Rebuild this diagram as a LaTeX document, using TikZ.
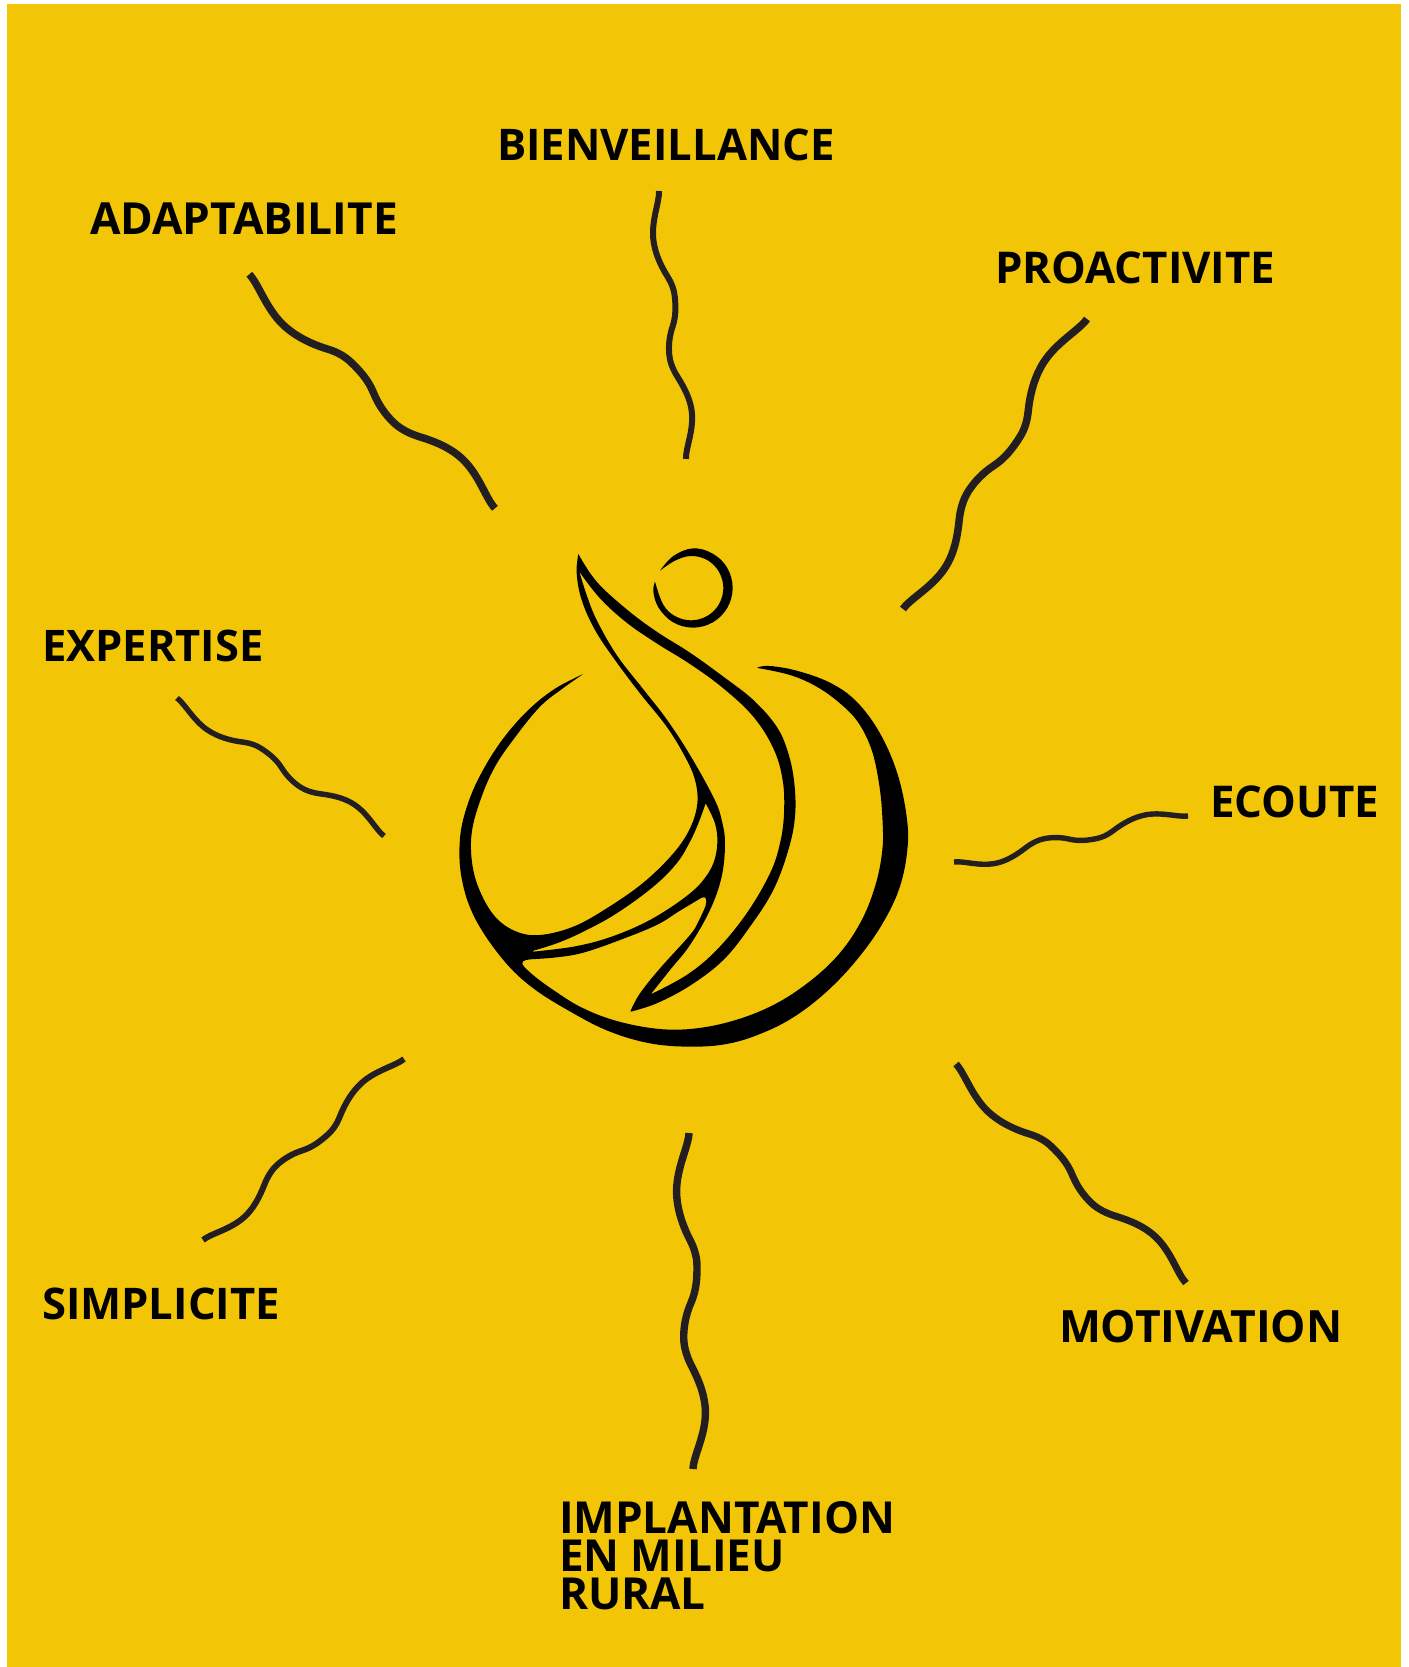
\documentclass[tikz,border=0pt]{standalone}
\usepackage{fontspec}
\setmainfont{Open Sans}
\usetikzlibrary{calc}
\definecolor{bgyellow}{HTML}{F2C607}
\definecolor{rayink}{HTML}{231F20}
\tikzset{
  label/.style={anchor=base west,inner sep=0pt,outer sep=0pt,text=black,font=\fontsize{#1}{38}\bfseries\selectfont},
  ray/.style={draw=rayink,line cap=butt,line join=round},
  logoedge/.style={smooth,tension=0.62}
}
% one wave, stretched from its first named coordinate to its second
\newcommand\wavy[3]{%
  \path (#1); \pgfgetlastxy{\wax}{\way}
  \path (#2); \pgfgetlastxy{\wbx}{\wby}
  \pgfmathsetmacro\wdx{(\wbx-\wax)/100}
  \pgfmathsetmacro\wdy{(\wby-\way)/100}
  \draw[ray,line width=#3,x=1pt,y=1pt,cm={\wdx,\wdy,-\wdy,\wdx,(#1)}]
    (0,0) .. controls (4,-0.2) and (10.5,-3.9) .. (17.5,-3.9)
    .. controls (22.3,-3.9) and (27.2,-2.4) .. (32,0)
    .. controls (34.5,1.25) and (37,1.9) .. (39.5,1.9)
    .. controls (43.2,1.9) and (46.8,1.65) .. (50.5,0)
    .. controls (54,-1.58) and (57.5,-2.3) .. (61,-2.3)
    .. controls (63.8,-2.3) and (66.7,-1.4) .. (69.5,0)
    .. controls (74,2.25) and (78.5,3.9) .. (83,3.9)
    .. controls (90,3.9) and (96,0.2) .. (100,0);
}
\begin{document}
\begin{tikzpicture}[x=1pt,y=-1pt]
\useasboundingbox (0,0) rectangle (1408,1667);
\fill[white] (0,0) rectangle (1408,1667);
\fill[bgyellow] (7,4) rectangle (1400.5,1667);

% labels
\node[label=44.2] (adapt) at (90,234) {ADAPTABILITE};
\node[label=43.6] (bien) at (497,160.5) {BIENVEILLANCE};
\node[label=43.8] (proact) at (995,283) {PROACTIVITE};
\node[label=43.8] (ecoute) at (1210,817) {ECOUTE};
\node[label=43.5] (exper) at (42,661) {EXPERTISE};
\node[label=43.6] (simpl) at (42,1319) {SIMPLICITE};
\node[label=44.5] (motiv) at (1059,1342) {MOTIVATION};
\node[label=44.1,anchor=north west,align=left] (impl) at (559,1502) {IMPLANTATION\\EN MILIEU\\RURAL};

% rays
\coordinate (r1a) at (249.3,274.3); \coordinate (r1b) at (495,508.3);
\coordinate (r2a) at (659,191);  \coordinate (r2b) at (686,459);
\coordinate (r3a) at (1087,319); \coordinate (r3b) at (903,609);
\coordinate (r4a) at (1188,816); \coordinate (r4b) at (954,862);
\coordinate (r5a) at (956,1064); \coordinate (r5b) at (1186,1283);
\coordinate (r6a) at (689,1133); \coordinate (r6b) at (693,1469);
\coordinate (r7a) at (404,1059); \coordinate (r7b) at (203,1240);
\coordinate (r8a) at (177,698);  \coordinate (r8b) at (384,836);
\wavy{r1a}{r1b}{7.5pt}
\wavy{r2a}{r2b}{6pt}
\wavy{r3a}{r3b}{7.5pt}
\wavy{r4a}{r4b}{5.4pt}
\wavy{r5a}{r5b}{7pt}
\wavy{r6a}{r6b}{7.4pt}
\wavy{r7a}{r7b}{6pt}
\wavy{r8a}{r8b}{5.5pt}

% logo, in its own local coordinates
\begin{scope}[shift={(440,530)},x=0.33333pt,y=-0.33333pt]
 % head
 \fill[black] plot[logoedge] coordinates {(660,122) (700,78) (759,55) (818.5,71) (862,114) (878,174) (862,233.5) (818.5,277) (759,293) (699.5,277) (656,233.5) (640,185) (645,155)}
   -- plot[logoedge] coordinates {(645,155) (669,222.5) (704.5,258) (753,271) (801.5,258) (837,222.5) (850,174) (837,125.5) (801.5,90) (753,78) (705,92) (660,122)} -- cycle;
 % body
 \fill[black,even odd rule]
   plot[logoedge] coordinates {(430,432) (345,476) (265,540) (190,625) (128,722) (84,820) (60,925) (65,1045) (105,1165) (190,1290) (280,1375) (400,1450) (510,1505) (630,1540) (750,1550) (860,1542) (960,1512) (1060,1462) (1160,1385) (1250,1290) (1325,1185) (1378,1075) (1402,960) (1400,860) (1372,730) (1320,610) (1250,515) (1170,458) (1070,422) (990,408) (953,412)}
   -- plot[logoedge] coordinates {(953,414) (1050,435) (1130,470) (1200,520) (1255,578) (1295,660) (1317,760) (1327,860) (1327,960) (1305,1070) (1260,1180) (1190,1280) (1095,1365) (990,1430) (870,1475) (750,1497) (640,1495) (520,1470) (420,1430) (340,1380) (285,1340) (252,1310)}
   .. controls (240,1295) and (250,1290) .. (270,1288)
   -- plot[logoedge] coordinates {(270,1288) (350,1282) (430,1268) (540,1230) (650,1185) (720,1142) (785,1103)}
   .. controls (800,1097) and (802,1110) .. (796,1130)
   -- plot[logoedge] coordinates {(796,1130) (775,1175) (750,1215) (660,1315) (600,1390) (572,1442)}
   -- plot[logoedge] coordinates {(572,1445) (650,1420) (750,1367) (850,1290) (930,1190) (1000,1080) (1045,960) (1065,860) (1063,760) (1045,670) (1010,590) (940,510) (850,440) (750,368) (650,305) (560,238) (470,155) (415,72)}
   -- plot[logoedge] coordinates {(415,72) (410,130) (425,210) (465,300) (525,390) (600,490) (680,590) (735,680) (765,750) (772,820) (750,895) (700,970) (610,1058) (500,1135) (400,1190) (300,1215) (230,1205) (170,1165) (125,1095) (98,1010) (95,910) (122,808) (165,710) (225,622) (300,530) (370,474) (430,432)} -- cycle
   plot[logoedge] coordinates {(418,125) (480,205) (560,278) (650,340) (750,402) (850,475) (940,560) (1000,655) (1028,750) (1032,850) (1020,940) (990,1030) (920,1150) (830,1260) (740,1335) (632,1393)}
   -- plot[logoedge] coordinates {(632,1393) (690,1320) (750,1245) (810,1140) (845,1040) (855,940) (845,870) (822,805) (750,675) (680,568) (610,478) (530,375) (470,270) (440,195) (418,125)} -- cycle
   plot[logoedge] coordinates {(797,820) (825,880) (832,940) (820,1000) (790,1050) (750,1090) (680,1140) (600,1185) (500,1225) (400,1250) (280,1265)}
   -- plot[logoedge] coordinates {(280,1262) (350,1240) (430,1205) (530,1150) (640,1070) (710,1000) (750,935) (775,880) (797,820)} -- cycle;
\end{scope}
\end{tikzpicture}
\end{document}
